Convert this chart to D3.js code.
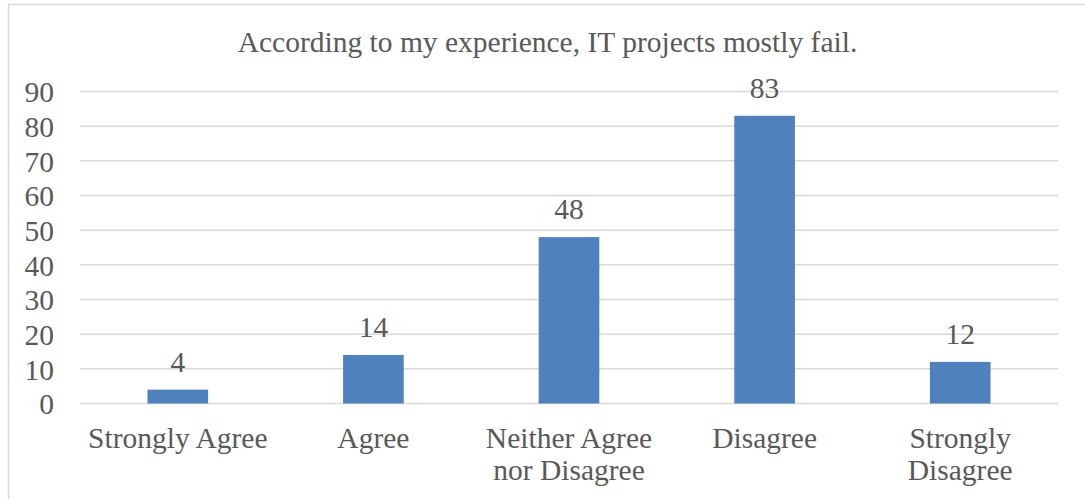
<!DOCTYPE html>
<html>
<head>
<meta charset="utf-8">
<script src="https://cdn.jsdelivr.net/npm/d3@7"></script>
<style>
html,body{margin:0;padding:0;background:#fff;}
svg{display:block;}
text{font-family:"Liberation Serif","Times New Roman",serif;fill:#595959;}
</style>
</head>
<body>
<svg id="chart" width="1085" height="499"></svg>
<script>
const title = "According to my experience, IT projects mostly fail.";
const categories = ["Strongly Agree", "Agree", "Neither Agree nor Disagree", "Disagree", "Strongly Disagree"];
const values = [4, 14, 48, 83, 12];
const yTicks = [0, 10, 20, 30, 40, 50, 60, 70, 80, 90];

const W = 1085, H = 499;
const svg = d3.select("#chart");
const m = {left: 80, right: 1058, top: 91.5, bottom: 403.5};
const fs = 29.5;

// outer border
svg.append("rect").attr("x", 8.5).attr("y", 4.5).attr("width", 1090).attr("height", 520)
  .attr("fill", "none").attr("stroke", "#d9d9d9").attr("stroke-width", 1.5);

const x = d3.scaleBand().domain(categories).range([m.left, m.right]).paddingInner(0.69).paddingOuter(0.345);
const y = d3.scaleLinear().domain([0, 90]).range([m.bottom, m.top]);

// gridlines
svg.append("g").selectAll("line").data(yTicks).join("line")
  .attr("x1", m.left).attr("x2", m.right)
  .attr("y1", d => y(d)).attr("y2", d => y(d))
  .attr("stroke", "#d9d9d9").attr("stroke-width", 1.5);

// y tick labels
const yAxis = d3.axisLeft(y).tickValues(yTicks).tickSize(0).tickPadding(0);
const gy = svg.append("g").attr("transform", "translate(54,0)").call(yAxis);
gy.select(".domain").remove();
gy.selectAll("text").style("font-size", fs + "px").attr("fill", "#595959")
  .style("font-family", "'Liberation Serif','Times New Roman',serif").attr("dy", "0.35em");

// bars
svg.append("g").selectAll("rect").data(values).join("rect")
  .attr("x", (d, i) => x(categories[i]))
  .attr("width", x.bandwidth())
  .attr("y", d => y(d))
  .attr("height", d => y(0) - y(d))
  .attr("fill", "#4F81BD");

// value labels
svg.append("g").selectAll("text").data(values).join("text")
  .attr("x", (d, i) => x(categories[i]) + x.bandwidth() / 2)
  .attr("y", d => y(d) - 18)
  .attr("text-anchor", "middle")
  .style("font-size", fs + "px")
  .text(d => d);

// title
svg.append("text").attr("x", 547.5).attr("y", 52)
  .attr("text-anchor", "middle").style("font-size", fs + "px").text(title);

// x labels with wrapping
const step = x.step();
const gx = svg.append("g");
categories.forEach(c => {
  const t = gx.append("text").attr("x", x(c) + x.bandwidth() / 2).attr("y", 448)
    .attr("text-anchor", "middle").style("font-size", fs + "px");
  const words = c.split(" ");
  let line = [];
  let ts = t.append("tspan").attr("x", x(c) + x.bandwidth() / 2).attr("dy", 0);
  words.forEach(w => {
    line.push(w);
    ts.text(line.join(" "));
    if (ts.node().getComputedTextLength() > step - 6 && line.length > 1) {
      line.pop();
      ts.text(line.join(" "));
      line = [w];
      ts = t.append("tspan").attr("x", x(c) + x.bandwidth() / 2).attr("dy", 32).text(w);
    }
  });
});
</script>
</body>
</html>
